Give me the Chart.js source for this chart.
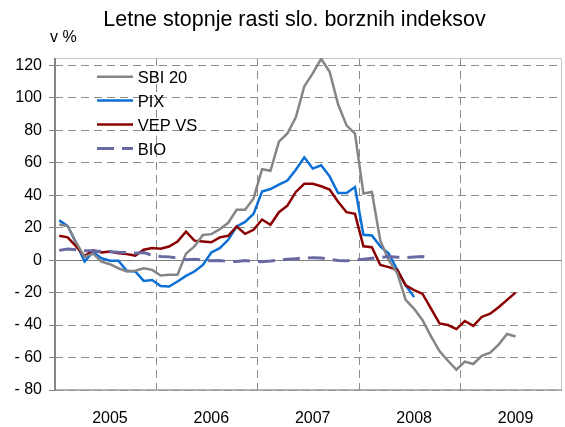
<!DOCTYPE html>
<html>
<head>
<meta charset="utf-8">
<script src="https://cdn.jsdelivr.net/npm/chart.js@4.4.1/dist/chart.umd.min.js"></script>
<style>
  body { margin: 0; background: #fff; }
</style>
</head>
<body>
<canvas id="chart" width="565" height="427"></canvas>
<script>
// Letne stopnje rasti slo. borznih indeksov (v %), mesečni podatki 2005-2009

const years = ["2005", "2006", "2007", "2008", "2009"];
const months = ["01", "02", "03", "04", "05", "06", "07", "08", "09", "10", "11", "12"];
const categories = years.flatMap((y) => months.map((m) => y + "-" + m));
const yTicks = [-80, -60, -40, -20, 0, 20, 40, 60, 80, 100, 120];

const sbi20 = [22, 21, 11, 2, 4, -1, -2.5, -5, -7, -6.5, -5, -6,
  -9.5, -9, -9, 4, 8.5, 15.5, 16, 19, 23, 31, 31, 38,
  56, 55, 73, 78, 88, 107, 115, 124, 116, 96, 83, 78,
  41, 42, 12, 0, -8, -24.5, -30, -37, -47, -56, -62, -67.5,
  -62.5, -64, -59, -57, -52, -45.5, -47];
const pix = [24.5, 21, 10.5, -0.8, 5, 1.2, -0.4, -0.4, -6.6, -7, -12.8, -12.2,
  -16, -16.3, -13.2, -9.7, -7, -3, 4.7, 7.4, 12.5, 20.7, 23.5, 28.5,
  42.3, 43.8, 46.5, 49, 55.7, 63.3, 56.4, 58.4, 51.6, 41.3, 41.3, 45,
  15.6, 15.2, 8.5, 4, -6, -15.5, -22.8];
const vepVs = [15, 14, 8.5, 2.5, 6, 4.7, 5.3, 4.3, 3.7, 2.8, 6.4, 7.4,
  7, 8.4, 11.5, 17.5, 12, 11.5, 11, 14, 15, 20.7, 16.2, 18.7,
  25, 21.8, 29.5, 33.5, 42, 47, 47, 45.5, 43.5, 36, 29.5, 28.5,
  8.5, 8, -3, -4.3, -6, -15.5, -18.5, -20.8, -29.8, -39, -40, -42.5,
  -37.5, -40.5, -35, -33, -29, -24.5, -20];
const bio = [6, 6.8, 6.4, 5.8, 5.7, 5.3, 5.2, 4.8, 4.6, 4.3, 4.7, 3,
  2.3, 2, 1.2, 0.3, 0.5, 0.2, -0.4, -0.3, -0.8, -0.8, -0.3, -0.6,
  -1, -0.6, 0, 0.5, 0.9, 1.3, 1.5, 1.3, 0.5, -0.2, -0.4, 0,
  0.6, 1.1, 1.7, 2.2, 1.8, 1.6, 1.9, 2.2, 1.3];

const seriesNames = ["SBI 20", "PIX", "VEP VS", "BIO"];
const seriesColors = ["#858585", "#0b6fd6", "#8b0000", "#6a6aa2"];
const bioDash = [17, 8];

const FONT = "'Liberation Sans', Arial, sans-serif";

// title, unit, frame, zero line and legend drawn by hand
const decorations = {
  id: "decorations",
  beforeDatasetsDraw(chart) {
    const { ctx, chartArea: a, scales } = chart;
    ctx.save();
    // plot frame (top/right light, bottom medium)
    ctx.strokeStyle = "#c4c4c4";
    ctx.lineWidth = 1;
    ctx.beginPath();
    ctx.moveTo(a.left, a.top + 0.5);
    ctx.lineTo(a.right - 0.5, a.top + 0.5);
    ctx.lineTo(a.right - 0.5, a.bottom);
    ctx.stroke();
    ctx.strokeStyle = "#9a9a9a";
    ctx.lineWidth = 1.5;
    ctx.beginPath();
    ctx.moveTo(a.left, a.bottom);
    ctx.lineTo(a.right, a.bottom);
    ctx.stroke();
    // value axis
    ctx.strokeStyle = "#858585";
    ctx.lineWidth = 2;
    ctx.beginPath();
    ctx.moveTo(a.left, a.top);
    ctx.lineTo(a.left, a.bottom + 1);
    ctx.stroke();
    // category axis at 0
    const y0 = Math.round(scales.y.getPixelForValue(0)) + 0.5;
    ctx.strokeStyle = "#808080";
    ctx.lineWidth = 1.2;
    ctx.beginPath();
    ctx.moveTo(a.left, y0);
    ctx.lineTo(a.right, y0);
    ctx.stroke();
    ctx.restore();
  },
  afterDraw(chart) {
    const { ctx } = chart;
    ctx.save();
    ctx.fillStyle = "#000";
    ctx.textBaseline = "alphabetic";
    ctx.textAlign = "center";
    ctx.font = "21.5px " + FONT;
    ctx.fillText("Letne stopnje rasti slo. borznih indeksov", 294.5, 25.7);
    ctx.textAlign = "left";
    ctx.font = "16px " + FONT;
    ctx.fillText("v %", 50, 42.3);

    // legend
    ctx.font = "16.5px " + FONT;
    seriesNames.forEach((name, i) => {
      const ly = 76.7 + i * 23.9;
      ctx.strokeStyle = seriesColors[i];
      ctx.lineWidth = i === 3 ? 3 : 2.5;
      ctx.setLineDash(i === 3 ? bioDash : []);
      ctx.beginPath();
      ctx.moveTo(97, ly);
      ctx.lineTo(133, ly);
      ctx.stroke();
      ctx.fillText(name, 137.7, ly + 6.3);
    });
    ctx.restore();
  },
};

const makeSet = (label, data, i) => ({
  label,
  data,
  borderColor: seriesColors[i],
  backgroundColor: seriesColors[i],
  borderWidth: i === 3 ? 3 : 2.5,
  borderDash: i === 3 ? bioDash : [],
  pointRadius: 0,
  tension: 0,
  fill: false,
});

new Chart(document.getElementById("chart"), {
  type: "line",
  data: {
    labels: categories,
    datasets: [
      makeSet(seriesNames[3], bio, 3),
      makeSet(seriesNames[0], sbi20, 0),
      makeSet(seriesNames[2], vepVs, 2),
      makeSet(seriesNames[1], pix, 1),
    ],
  },
  options: {
    responsive: false,
    devicePixelRatio: 1,
    animation: false,
    layout: { padding: { top: 58, right: 3, left: 0, bottom: 0 } },
    plugins: {
      legend: { display: false },
      title: { display: false },
      tooltip: { enabled: false },
    },
    scales: {
      x: {
        type: "category",
        offset: true,
        grid: {
          offset: true,
          drawTicks: true,
          tickLength: 19,
          tickColor: "transparent",
          lineWidth: 1,
          color: (c) => (c.index > 0 && c.index < 60 && c.index % 12 === 0 ? "#8c8c8c" : "transparent"),
        },
        border: { display: false, dash: [8, 5] },
        ticks: {
          autoSkip: false,
          maxRotation: 0,
          padding: 0,
          color: "#000",
          font: { family: FONT, size: 16 },
          callback: (val, i) => (i % 12 === 6 ? years[Math.floor(i / 12)] : ""),
        },
        afterFit: (scale) => { scale.height = 37; },
      },
      y: {
        min: -80,
        max: 124.5,
        afterBuildTicks: (scale) => { scale.ticks = yTicks.map((v) => ({ value: v })); },
        grid: {
          lineWidth: 1,
          tickLength: 6,
          tickColor: "#858585",
          color: (c) => (c.tick && c.tick.value === 0 ? "transparent" : "#8c8c8c"),
        },
        border: { display: false, dash: [8, 5] },
        ticks: {
          padding: 7,
          color: "#000",
          font: { family: FONT, size: 16 },
          callback: (v) => (v < 0 ? "- " + Math.abs(v) : String(v)),
        },
        afterFit: (scale) => { scale.width = 55; },
      },
    },
  },
  plugins: [decorations],
});
</script>
</body>
</html>
